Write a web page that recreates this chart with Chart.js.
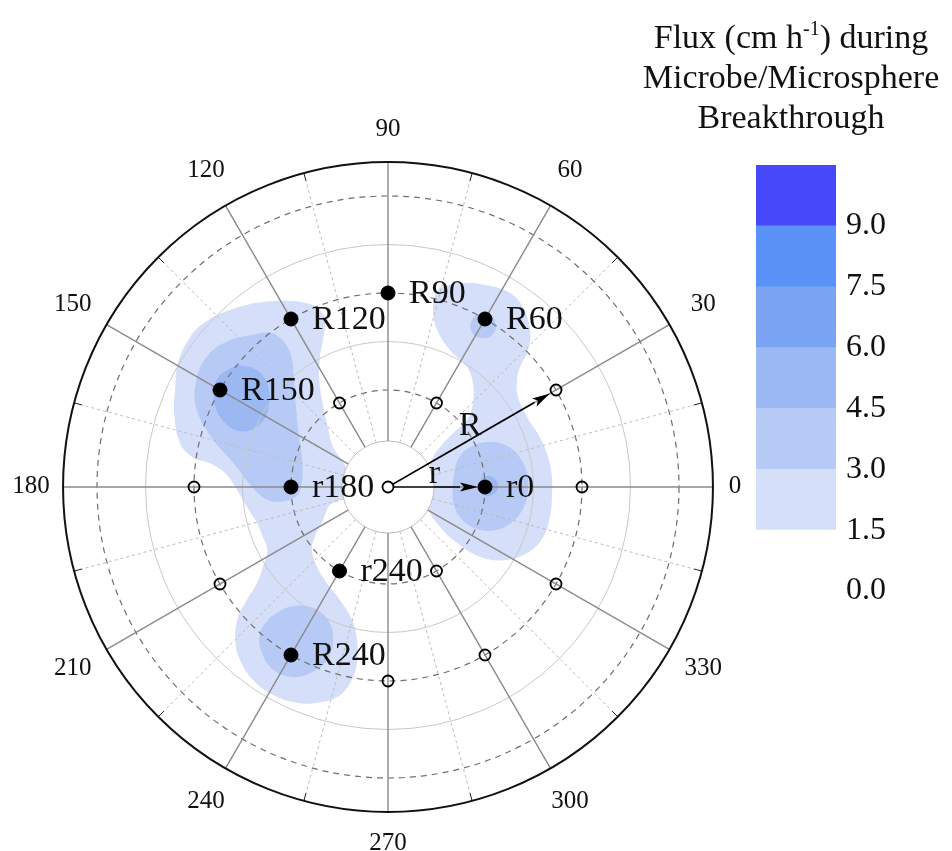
<!DOCTYPE html>
<html>
<head>
<meta charset="utf-8">
<script src="https://cdn.jsdelivr.net/npm/chart.js@4.4.0/dist/chart.umd.min.js"></script>
<style>
  body { margin: 0; background: #fff; width: 952px; height: 851px; overflow: hidden; position: relative; font-family: 'Liberation Serif', serif; }
  #polar { position: absolute; left: 0; top: 0; }
  #bar { position: absolute; left: 740px; top: 125px; }
  #title { position: absolute; left: 631px; top: 17px; width: 320px; text-align: center; font-size: 34px; line-height: 40px; color: #111; }
  #title sup { font-size: 20px; line-height: 0; vertical-align: 0.65em; }
</style>
</head>
<body>
<canvas id="polar" width="776" height="851"></canvas>
<canvas id="bar" width="212" height="506"></canvas>
<div id="title">Flux (cm h<sup>-1</sup>) during<br>Microbe/Microsphere<br>Breakthrough</div>
<script>
// angular axis (degrees) and radial grid (r = 2, R = 4)
const angleTicks = [0, 30, 60, 90, 120, 150, 180, 210, 240, 270, 300, 330];
const dashedRings = [2, 4, 6];
const solidRings = [3, 5];

// flux contour levels (cm/h) and their colours
const levelBounds = [0, 1.5, 3.0, 4.5, 6.0, 7.5, 9.0, 10.5];
const levelColors = ['#ffffff', '#d5dff9', '#b7caf6', '#9cb8f2', '#7aa3f4', '#5b92f7', '#4848fb'];

// sampling ports: filled = breakthrough observed, open = none
const filledAngles = [90, 60, 120, 150, 240, 0, 180, 240];
const filledRadii = [4, 4, 4, 4, 4, 2, 2, 2];
const filledNames = ['R90', 'R60', 'R120', 'R150', 'R240', 'r0', 'r180', 'r240'];
const openAngles = [0, 30, 0, 330, 300, 270, 180, 210, 300, 60, 120];
const openRadii = [0, 4, 4, 4, 4, 4, 4, 4, 2, 2, 2];

// radius arrows
const arrowAngles = [30, 0];
const arrowRadii = [4, 2];
const arrowLabels = ['R', 'r'];

// contour outlines (x, y in radial units)
const rightBlob1 = [[1.07,4.12],[1.48,4.21],[2.04,4.16],[2.52,4.00],[2.78,3.71],[2.93,3.24],[2.89,2.82],[2.72,2.47],[2.66,2.21],[2.68,1.86],[2.87,1.44],[3.13,1.03],[3.30,0.62],[3.38,0.21],[3.38,-0.21],[3.34,-0.62],[3.20,-1.03],[2.87,-1.36],[2.37,-1.51],[1.90,-1.44],[1.42,-1.15],[1.07,-0.82],[0.82,-0.41],[0.80,0.00],[0.87,0.49],[1.07,0.82],[1.34,1.11],[1.63,1.38],[1.75,1.73],[1.75,2.14],[1.63,2.47],[1.28,2.82],[1.01,3.24],[0.93,3.65],[0.97,3.96]];
const leftBlob1 = [[-2.78,3.79],[-2.23,3.84],[-1.67,3.79],[-1.40,3.65],[-1.30,3.38],[-1.34,3.03],[-1.40,2.68],[-1.42,2.27],[-1.36,1.79],[-1.26,1.32],[-1.13,0.82],[-0.89,0.45],[-0.78,0.00],[-0.99,-0.27],[-1.20,-0.37],[-1.34,-0.68],[-1.51,-1.03],[-1.57,-1.30],[-1.46,-1.65],[-1.26,-1.98],[-0.99,-2.33],[-0.74,-2.74],[-0.64,-3.15],[-0.64,-3.63],[-0.78,-4.04],[-1.05,-4.33],[-1.46,-4.45],[-1.88,-4.45],[-2.37,-4.29],[-2.78,-3.98],[-3.05,-3.57],[-3.15,-3.15],[-3.09,-2.68],[-2.91,-2.33],[-2.70,-1.98],[-2.58,-1.65],[-2.49,-1.30],[-2.58,-1.03],[-2.70,-0.74],[-2.91,-0.41],[-3.11,-0.06],[-3.36,0.29],[-3.67,0.49],[-4.04,0.62],[-4.29,0.91],[-4.41,1.53],[-4.39,2.00],[-4.33,2.56],[-4.08,3.09],[-3.77,3.40],[-3.32,3.63]];
const rightBlob2 = [[1.34,0.14],[1.44,0.56],[1.69,0.82],[2.06,0.93],[2.41,0.87],[2.68,0.66],[2.85,0.35],[2.89,-0.02],[2.80,-0.41],[2.56,-0.72],[2.21,-0.89],[1.79,-0.85],[1.48,-0.62],[1.34,-0.27]];
const leftBlob2 = [[-2.85,3.13],[-2.43,3.18],[-2.16,3.01],[-2.00,2.72],[-1.94,2.27],[-1.90,1.69],[-1.84,1.07],[-1.77,0.56],[-1.77,0.14],[-1.86,-0.16],[-2.12,-0.29],[-2.47,-0.27],[-2.80,0.00],[-3.15,0.45],[-3.63,1.01],[-3.96,1.65],[-3.94,2.25],[-3.71,2.72],[-3.30,3.01]];
const bottomBlob2 = [[-2.43,-2.68],[-2.02,-2.47],[-1.55,-2.49],[-1.24,-2.74],[-1.13,-3.15],[-1.26,-3.57],[-1.55,-3.81],[-1.96,-3.92],[-2.37,-3.77],[-2.60,-3.42],[-2.64,-3.01]];
const r60Patch2 = [[1.69,3.32],[1.77,3.51],[1.96,3.57],[2.14,3.51],[2.23,3.32],[2.14,3.13],[1.96,3.07],[1.77,3.13]];
const leftBlob3 = [[-3.11,2.52],[-2.70,2.41],[-2.47,2.06],[-2.47,1.59],[-2.70,1.24],[-3.05,1.15],[-3.40,1.36],[-3.59,1.79],[-3.51,2.25]];
const r0Patch3 = [[1.86,0.02],[1.92,0.16],[2.06,0.23],[2.21,0.16],[2.27,0.02],[2.21,-0.12],[2.06,-0.19],[1.92,-0.12]];

const contours = [
  { pts: rightBlob1, level: 1 }, { pts: leftBlob1, level: 1 },
  { pts: rightBlob2, level: 2 }, { pts: leftBlob2, level: 2 }, { pts: bottomBlob2, level: 2 }, { pts: r60Patch2, level: 2 },
  { pts: leftBlob3, level: 3 }, { pts: r0Patch3, level: 3 }
];

const FONT = 'Liberation Serif';
const rad = d => d * Math.PI / 180;
const toXY = (a, r) => ({ x: r * Math.cos(rad(a)), y: r * Math.sin(rad(a)) });

const datasets = [
  { // filled ports
    data: filledAngles.map((a, i) => toXY(a, filledRadii[i])),
    pointRadius: 7, backgroundColor: '#000', borderColor: '#000', borderWidth: 1, order: 1
  },
  { // open ports
    data: openAngles.map((a, i) => toXY(a, openRadii[i])),
    pointRadius: 5.5, backgroundColor: 'rgba(0,0,0,0)', borderColor: '#000', borderWidth: 1.8, order: 2
  }
];
contours.forEach(c => {
  const d = c.pts.map(p => ({ x: p[0], y: p[1] }));
  d.push(d[0]);
  datasets.push({
    data: d, showLine: true, fill: 'shape', tension: 0.4,
    backgroundColor: levelColors[c.level], borderColor: 'rgba(0,0,0,0)', borderWidth: 0,
    pointRadius: 0, order: 40 - c.level * 10
  });
});

const holeRadius = 0.95, outerRadius = 6.7;

const polarGrid = {
  id: 'polarGrid',
  beforeDatasetDraw(chart, args) {
    if (args.index !== 1) return;
    const { ctx, scales: { x, y } } = chart;
    const cx = x.getPixelForValue(0), cy = y.getPixelForValue(0);
    const u = x.getPixelForValue(1) - cx;
    ctx.save();
    ctx.fillStyle = '#fff';
    ctx.strokeStyle = '#bdbdbd';
    ctx.lineWidth = 1;
    ctx.beginPath(); ctx.arc(cx, cy, holeRadius * u, 0, 2 * Math.PI); ctx.fill(); ctx.stroke();

    solidRings.forEach(r => {
      ctx.strokeStyle = '#c8c8c8'; ctx.lineWidth = 1; ctx.setLineDash([]);
      ctx.beginPath(); ctx.arc(cx, cy, r * u, 0, 2 * Math.PI); ctx.stroke();
    });
    dashedRings.forEach(r => {
      ctx.strokeStyle = '#6e6e6e'; ctx.lineWidth = 1.2; ctx.setLineDash([6, 5]);
      ctx.beginPath(); ctx.arc(cx, cy, r * u, 0, 2 * Math.PI); ctx.stroke();
    });

    // minor spokes (dotted) and major spokes
    angleTicks.forEach(a => {
      const m = rad(a + 15);
      ctx.strokeStyle = '#bcbcbc'; ctx.lineWidth = 1; ctx.setLineDash([3, 3]);
      ctx.beginPath();
      ctx.moveTo(cx + holeRadius * u * Math.cos(m), cy - holeRadius * u * Math.sin(m));
      ctx.lineTo(cx + outerRadius * u * Math.cos(m), cy - outerRadius * u * Math.sin(m));
      ctx.stroke();
      ctx.setLineDash([]);
      ctx.strokeStyle = '#222'; ctx.lineWidth = 1;
      ctx.beginPath();
      ctx.moveTo(cx + (outerRadius * u - 8) * Math.cos(m), cy - (outerRadius * u - 8) * Math.sin(m));
      ctx.lineTo(cx + outerRadius * u * Math.cos(m), cy - outerRadius * u * Math.sin(m));
      ctx.stroke();

      const t = rad(a);
      ctx.strokeStyle = '#8a8a8a'; ctx.lineWidth = 1.4;
      ctx.beginPath();
      ctx.moveTo(cx + holeRadius * u * Math.cos(t), cy - holeRadius * u * Math.sin(t));
      ctx.lineTo(cx + outerRadius * u * Math.cos(t), cy - outerRadius * u * Math.sin(t));
      ctx.stroke();
    });

    ctx.strokeStyle = '#111'; ctx.lineWidth = 2;
    ctx.beginPath(); ctx.arc(cx, cy, outerRadius * u, 0, 2 * Math.PI); ctx.stroke();
    ctx.restore();
  },
  afterDatasetsDraw(chart) {
    const { ctx, scales: { x, y } } = chart;
    const cx = x.getPixelForValue(0), cy = y.getPixelForValue(0);
    ctx.save();
    ctx.fillStyle = '#111';
    ctx.textAlign = 'center';
    ctx.textBaseline = 'middle';
    ctx.font = '25px "' + FONT + '"';
    angleTicks.forEach(a => {
      const lbl = String(a);
      // diagonal labels sit a little further out than the axis ones
      const r = lbl.length === 1 ? 347 : 357 + 8 * Math.abs(Math.sin(rad(2 * a)));
      ctx.fillText(lbl, cx + r * Math.cos(rad(a)), cy - r * Math.sin(rad(a)) - 1);
    });

    // radius arrows
    arrowAngles.forEach((a, i) => {
      const p = toXY(a, arrowRadii[i]);
      const tx = x.getPixelForValue(p.x), ty = y.getPixelForValue(p.y);
      const len = Math.hypot(tx - cx, ty - cy);
      const ux = (tx - cx) / len, uy = (ty - cy) / len;
      const tipX = tx - ux * 7, tipY = ty - uy * 7;
      const bx = tipX - ux * 18, by = tipY - uy * 18;
      ctx.strokeStyle = '#000'; ctx.lineWidth = 1.5;
      ctx.beginPath(); ctx.moveTo(cx + ux * 6, cy + uy * 6); ctx.lineTo(bx, by); ctx.stroke();
      ctx.fillStyle = '#000';
      ctx.beginPath();
      ctx.moveTo(tipX, tipY);
      ctx.lineTo(bx - uy * 4.5, by + ux * 4.5);
      ctx.lineTo(bx + ux * 4, by + uy * 4);
      ctx.lineTo(bx + uy * 4.5, by - ux * 4.5);
      ctx.closePath(); ctx.fill();
      ctx.font = '34px "' + FONT + '"';
      ctx.textBaseline = 'alphabetic';
      ctx.fillStyle = '#111';
      ctx.fillText(arrowLabels[i], (cx + tx) / 2 - 2, (cy + ty) / 2 - 4);
    });

    // port names
    ctx.font = '34px "' + FONT + '"';
    ctx.textAlign = 'left';
    ctx.textBaseline = 'middle';
    filledAngles.forEach((a, i) => {
      const p = toXY(a, filledRadii[i]);
      ctx.fillText(filledNames[i], x.getPixelForValue(p.x) + 21, y.getPixelForValue(p.y) + 1);
    });
    ctx.restore();
  }
};

new Chart(document.getElementById('polar'), {
  type: 'scatter',
  data: { datasets },
  options: {
    responsive: false,
    animation: false,
    events: [],
    layout: { padding: 0, autoPadding: false },
    plugins: { legend: { display: false }, tooltip: { enabled: false } },
    scales: {
      x: { display: false, min: -8, max: 8 },
      y: { display: false, min: -364 / 48.5, max: 487 / 48.5 }
    }
  },
  plugins: [polarGrid]
});

// colour scale
new Chart(document.getElementById('bar'), {
  type: 'bar',
  data: {
    labels: [''],
    datasets: levelColors.map((c, i) => ({
      data: [[levelBounds[i], levelBounds[i + 1]]],
      backgroundColor: c,
      barPercentage: 1,
      categoryPercentage: 1,
      grouped: false
    }))
  },
  options: {
    responsive: false,
    animation: false,
    events: [],
    layout: { padding: { left: 16, right: 56, top: 40, bottom: 40 } },
    plugins: { legend: { display: false }, tooltip: { enabled: false } },
    scales: {
      x: { display: false },
      y: {
        position: 'right', min: 0, max: 10.5,
        grid: { display: false, drawTicks: false },
        border: { display: false },
        ticks: {
          stepSize: 1.5, padding: 10, color: '#111',
          font: { family: FONT, size: 32 },
          callback: v => v > 9 ? '' : v.toFixed(1)
        }
      }
    }
  }
});
</script>
</body>
</html>
